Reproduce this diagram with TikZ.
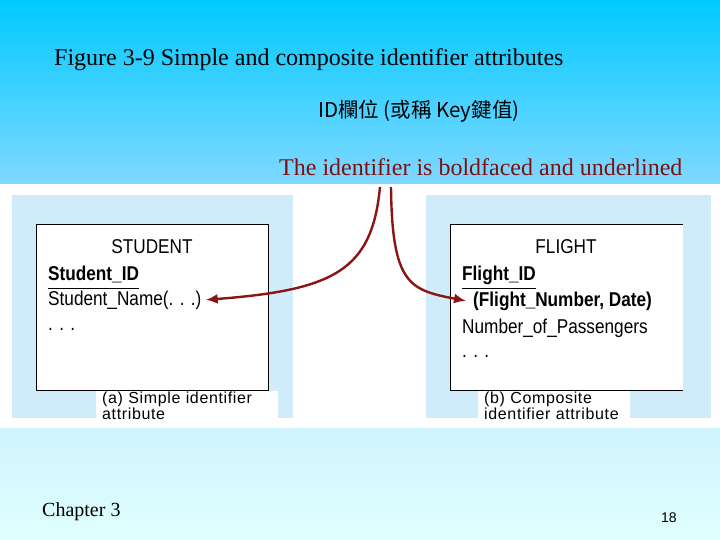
\documentclass[tikz,border=0pt]{standalone}
\usepackage{fontspec}
\setmainfont{Liberation Serif}
\newfontfamily\figfont[FakeStretch=0.86]{Liberation Sans}
\newfontfamily\capfont[LetterSpace=4]{Liberation Sans}
\newfontfamily\pagefont{Liberation Sans}
\newfontfamily\cjkfont{Noto Sans CJK TC}
\usetikzlibrary{arrows.meta}
\definecolor{bandtop}{RGB}{0,202,255}
\definecolor{bandbot}{RGB}{128,216,255}
\definecolor{lowtop}{RGB}{208,244,253}
\definecolor{lowbot}{RGB}{224,255,255}
\definecolor{panelblue}{RGB}{208,236,250}
\definecolor{arrowred}{RGB}{140,20,20}
\definecolor{notered}{RGB}{128,16,16}

\begin{document}
\begin{tikzpicture}[x=1pt,y=-1pt, txt/.style={anchor=base west,inner sep=0pt}, attr/.style={txt,font=\figfont\fontsize{20}{24}\selectfont}, keyattr/.style={txt,font=\figfont\bfseries\fontsize{20}{24}\selectfont}, caption/.style={anchor=north west,fill=white,align=left,inner xsep=6pt,inner ysep=1pt,font=\capfont\fontsize{16}{16}\selectfont}, idarrow/.style={-{Latex[length=12pt,width=10pt]},line width=2.4pt,arrowred}]
\useasboundingbox (0,0) rectangle (720,540);
% slide background
\shade[top color=bandtop,bottom color=bandbot] (0,0) rectangle (720,184);
\fill[white] (0,184) rectangle (720,428);
\shade[top color=lowtop,bottom color=lowbot] (0,428) rectangle (720,540);
\fill[panelblue] (12,195) rectangle (293,418); \fill[panelblue] (426,195) rectangle (711,418);
% entity boxes
\draw[fill=white] (36,224) rectangle (268,390);
\fill[white] (450,224) rectangle (683,390); \draw (683,224) -- (450,224) -- (450,390) -- (683,390);
\node[attr,anchor=base] (stud) at (152,254) {STUDENT};
\node[keyattr] (sid) at (48,280) {Student\_ID}; \draw ([yshift=-8pt]sid.base west) -- ([yshift=-8pt]sid.base east);
\node[attr] (sname) at (48,305) {Student\_Name(. . .)};
\node[attr] (sdots) at (48,330) {. . .};
\node[attr,anchor=base] (flt) at (566,254) {FLIGHT};
\node[keyattr] (fid) at (462,280) {Flight\_ID}; \draw ([yshift=-8pt]fid.base west) -- ([yshift=-8pt]fid.base east);
\node[keyattr] (fnum) at (473,306) {(Flight\_Number, Date)};
\node[attr] (fpass) at (462,333) {Number\_of\_Passengers};
\node[attr] (fdots) at (462,357) {. . .};
\node[caption,text width=170pt] (capa) at (96,391) {(a) Simple identifier\\attribute};
\node[caption,text width=140pt] (capb) at (478,391) {(b) Composite\\identifier attribute};
% headings
\node[txt,font=\fontsize{24}{28}\selectfont] (title) at (54,66) {Figure 3-9 Simple and composite identifier attributes};
\node[txt,font=\cjkfont\fontsize{20.5}{24}\selectfont] (idkey) at (318,118) {ID欄位 (或稱 Key鍵值)};
\node[txt,text=notered,font=\fontsize{24}{28}\selectfont] (note) at (279,176) {The identifier is boldfaced and underlined};
\node[txt,font=\fontsize{20}{24}\selectfont] (chap) at (42,516) {Chapter 3};
\node[txt,font=\pagefont\fontsize{14}{16}\selectfont] (page) at (661,522) {18};
% arrows to the identifiers
\coordinate (ka) at (380,187); \coordinate (kb) at (391,187);
\draw[idarrow] (ka) .. controls (372,270) and (335,290) .. ([xshift=4pt]sname.east);
\draw[idarrow] (kb) .. controls (392,285) and (410,290) .. ([xshift=-7pt]fnum.west);
\end{tikzpicture}
\end{document}
